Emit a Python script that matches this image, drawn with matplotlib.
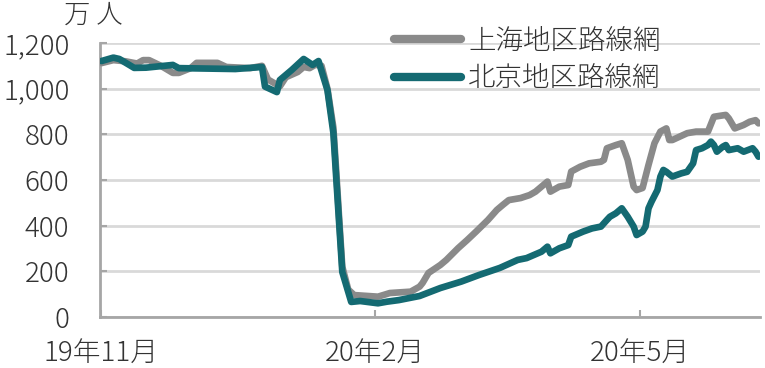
import matplotlib
matplotlib.use('Agg')
import matplotlib.pyplot as plt
import pandas as pd

plt.rcParams['font.family'] = ['Noto Sans CJK JP', 'DejaVu Sans']
plt.rcParams['font.weight'] = 'light'

start = pd.Timestamp('2019-11-01')

# days since 2019-11-01, values in 万人
sh_days = [0, 4, 8, 12, 14, 16, 20, 24, 26, 30, 32, 39, 42, 50, 54, 56, 58, 60, 62, 66,
           68, 70, 72, 74, 76, 78, 79, 80, 81, 83, 85, 93, 97, 104, 107, 108, 110, 114,
           116, 120, 123, 126, 130, 133, 135, 137, 141, 144, 146, 150, 151, 154, 157,
           158, 161, 164, 168, 169, 170, 173, 175, 177, 179, 180, 182, 184, 186, 188,
           190, 191, 192, 197, 200, 204, 206, 210, 211, 213, 216, 218, 220, 221]
sh_vals = [1112, 1125, 1120, 1110, 1125, 1125, 1100, 1069, 1069, 1090, 1113, 1113, 1095,
           1090, 1100, 1040, 1025, 1010, 1050, 1073, 1095, 1090, 1105, 1100, 1000, 830,
           630, 420, 220, 120, 96, 89, 105, 111, 133, 149, 193, 228, 250, 302, 337, 374,
           425, 469, 491, 512, 521, 534, 549, 593, 549, 571, 578, 637, 658, 673, 680, 688,
           739, 753, 761, 688, 571, 556, 565, 666, 761, 812, 826, 775, 775, 805, 812, 812,
           877, 885, 870, 826, 841, 855, 862, 848]

bj_days = [0, 4, 6, 11, 15, 24, 26, 45, 54, 55, 59, 60, 64, 68, 71, 73, 76, 78, 79, 80,
           81, 84, 87, 93, 96, 100, 107, 114, 121, 127, 134, 140, 143, 148, 150, 151, 154,
           157, 158, 162, 165, 168, 170, 171, 173, 175, 177, 179, 180, 182, 183, 184, 185,
           187, 188, 189, 190, 192, 195, 197, 199, 200, 202, 204, 205, 206, 207, 209, 210,
           211, 214, 216, 219, 220, 221]
bj_vals = [1121, 1136, 1130, 1091, 1092, 1104, 1090, 1086, 1095, 1009, 985, 1038, 1082,
           1130, 1104, 1121, 994, 806, 600, 399, 197, 66, 70, 60, 67, 74, 92, 127, 155,
           184, 215, 250, 258, 286, 308, 279, 301, 315, 352, 374, 388, 396, 425, 439, 454,
           476, 439, 396, 359, 374, 396, 476, 505, 556, 615, 644, 636, 615, 629, 636, 673,
           731, 739, 753, 768, 753, 724, 746, 753, 731, 739, 724, 739, 724, 702]

labels = ['上海地区路線網', '北京地区路線網']
tick_days = [0, 92, 181]
tick_labels = ['19年11月', '20年2月', '20年5月']

sh_x = start + pd.to_timedelta(sh_days, unit='D')
bj_x = start + pd.to_timedelta(bj_days, unit='D')

fig = plt.figure(figsize=(7.65, 3.68), dpi=100)
ax = fig.add_axes([100 / 765, 51 / 368, 660 / 765, 274 / 368])

ax.plot(sh_x, sh_vals, color='#8a8a8a', lw=4.8, solid_capstyle='round',
        solid_joinstyle='round', label=labels[0], zorder=3)
ax.plot(bj_x, bj_vals, color='#146a72', lw=4.8, solid_capstyle='round',
        solid_joinstyle='round', label=labels[1], zorder=4)

ax.set_ylim(0, 1200)
ax.set_xlim(start - pd.Timedelta(days=0.5), start + pd.Timedelta(days=221.5))
ax.set_yticks(range(0, 1201, 200))
ax.set_yticklabels([f'{v:,}' for v in range(0, 1201, 200)])
ax.set_xticks(start + pd.to_timedelta(tick_days, unit='D'))
ax.set_xticklabels(tick_labels)

ax.grid(axis='y', color='#d9d9d9', lw=2)
ax.set_axisbelow(True)
for s in ['top', 'right']:
    ax.spines[s].set_visible(False)
for s in ['left', 'bottom']:
    ax.spines[s].set_color('#a6a6a6')
    ax.spines[s].set_linewidth(2)
ax.tick_params(axis='both', direction='in', length=5, width=1.5, color='#a6a6a6',
               labelsize=20, labelcolor='#333333')
ax.tick_params(axis='y', pad=22)
ax.tick_params(axis='x', pad=16)

fig.text(64 / 765, 1 - 15 / 368, '万 人', fontsize=19, color='#333333', va='center')

leg = ax.legend(loc='upper left', bbox_to_anchor=(369 / 765, 1 - 2 / 368),
                bbox_transform=fig.transFigure, frameon=False, fontsize=19.8,
                handlelength=2.45, handletextpad=0.25, labelspacing=0.35)
for t in leg.get_texts():
    t.set_color('#333333')
for h in leg.get_lines():
    h.set_linewidth(6)

fig.savefig('out.png', dpi=100)
